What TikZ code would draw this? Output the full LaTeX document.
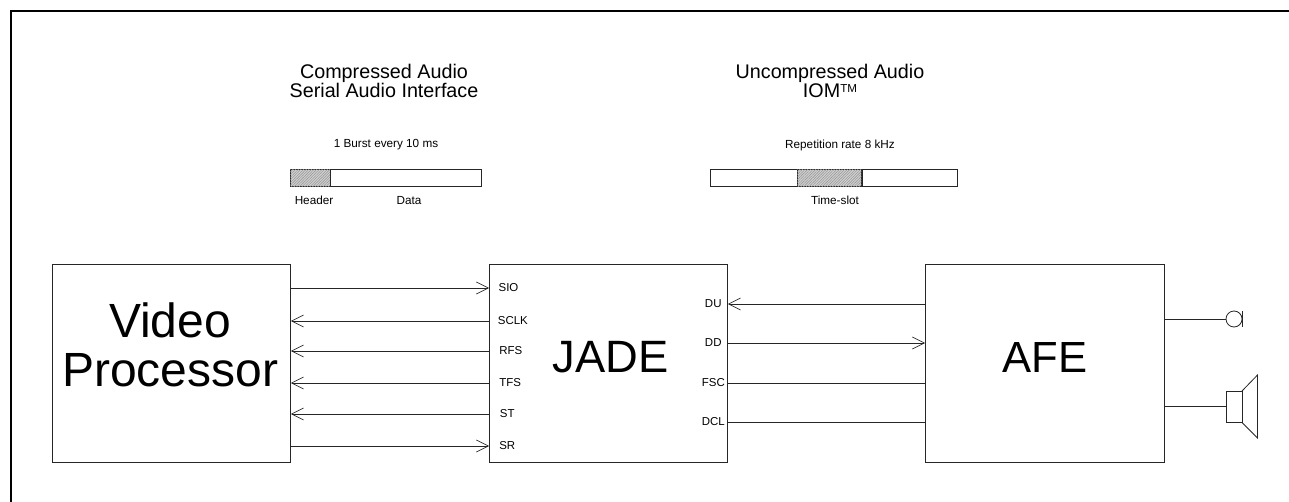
\documentclass[tikz,border=0pt]{standalone}
\usepackage{fontspec}
\setmainfont{Liberation Sans}
\usetikzlibrary{patterns.meta,arrows.meta}
\tikzset{
  block/.style={draw=black!85,line width=0.6pt,fill=white,inner sep=0pt,anchor=north west},
  cell/.style={draw=black!85,line width=0.6pt,inner sep=0pt,anchor=north west,fill=white,minimum height=12.75pt},
  hatched/.style={cell,fill=black!18,postaction={pattern={Lines[angle=45,distance=1.4pt,line width=0.45pt]},pattern color=black!40}},
  wire/.style={draw=black!85,line width=0.6pt},
  sig/.style={wire,-{Straight Barb[length=9pt,width=9pt,line width=0.5pt]}},
  pin/.style={font=\fontsize{8.6pt}{10pt}\selectfont,inner sep=0pt},
  small/.style={font=\fontsize{8.8pt}{10pt}\selectfont,inner sep=0pt},
  head/.style={font=\fontsize{14.8pt}{14.6pt}\selectfont,align=center,inner sep=0pt},
  big/.style={font=\fontsize{36pt}{36.8pt}\selectfont,align=center,inner sep=0pt},
  bigger/.style={font=\fontsize{34pt}{36pt}\selectfont,inner sep=0pt},
}
\begin{document}
\begin{tikzpicture}[x=0.75pt,y=-0.75pt]
\useasboundingbox (0,0) rectangle (1289,502);
\draw[line width=1.5pt,line cap=rect] (11,502) |- (1289,11);
% headings
\node[head] (h1) at (384,81) {Compressed Audio\\Serial Audio Interface};
\node[head] (h2) at (830,81) {Uncompressed Audio\\IOM\raisebox{4.2pt}{\fontsize{8.7pt}{9pt}\selectfont TM}};
\node[small] (t1) at (386,145) {1 Burst every 10 ms};
\node[small] (t2) at (840,145) {Repetition rate 8 kHz};
% bars
\node[hatched,minimum width=30pt] (b1) at (290,169) {};
\node[cell,minimum width=113.25pt] (b2) at (330,169) {};
\node[cell,minimum width=65.25pt] (b3) at (710,169) {};
\node[hatched,minimum width=48pt] (b4) at (797,169) {};
\node[cell,minimum width=71.25pt] (b5) at (862,169) {};
\node[small] (l1) at (314,200.5) {Header};
\node[small] (l2) at (409,200.5) {Data};
\node[small] (l3) at (835,200.5) {Time-slot};
% blocks
\node[block,minimum width=178.5pt,minimum height=148.5pt] (vp) at (52,264) {};
\node[big] (vpt) at ([xshift=-1pt,yshift=14pt]vp.center) {Video\\Processor};
\node[block,minimum width=178.5pt,minimum height=148.5pt] (jade) at (489,264) {};
\node[bigger] (jt) at ([xshift=1.9pt,yshift=4.5pt]jade.center) {JADE};
\node[block,minimum width=179.25pt,minimum height=148.5pt] (afe) at (925,264) {};
\node[bigger,font=\fontsize{32.7pt}{36pt}\selectfont] (at) at ([yshift=4.5pt]afe.center) {AFE};
% left connectors
\foreach \n/\y/\t/\s in {a/288/SIO/7pt,b/321/SCLK/6.5pt,c/351/RFS/7.5pt,d/383/TFS/7.5pt,e/414/ST/8pt,f/446/SR/7.5pt}{
  \coordinate (vp\n) at (vp.east |- 0,\y);
  \coordinate (ja\n) at (jade.west |- 0,\y);
  \node[pin,anchor=west] (lab\n) at ([xshift=\s]ja\n) {\t};
}
\draw[sig] (vpa) -- (jaa);
\draw[sig] (jab) -- (vpb);
\draw[sig] (jac) -- (vpc);
\draw[sig] (jad) -- (vpd);
\draw[sig] (jae) -- (vpe);
\draw[sig] (vpf) -- (jaf);
% right connectors
\foreach \n/\y/\t/\s in {g/304/DU/4.5pt,h/343/DD/4.5pt,i/383/FSC/2pt,j/422/DCL/2pt}{
  \coordinate (jr\n) at (jade.east |- 0,\y);
  \coordinate (af\n) at (afe.west |- 0,\y);
  \node[pin,anchor=east] (lab\n) at ([xshift=-\s]jr\n) {\t};
}
\draw[sig] (afg) -- (jrg);
\draw[sig] (jrh) -- (afh);
\draw[wire] (jri) -- (afi);
\draw[wire] (jrj) -- (afj);
% microphone
\coordinate (mic) at (1226,319);
\coordinate (spk) at (1226,406);
\draw[wire] (afe.east |- mic) -- (mic);
\draw[wire] (1226,319) arc[start angle=180,end angle=-180,radius=6pt];
\draw[wire] (1242,311.5) -- (1242,327);
% speaker
\draw[wire] (afe.east |- spk) -- (spk);
\draw[wire] (1226,391) rectangle (1242,422.5);
\draw[wire] (1242,391) -- (1257.5,375) -- (1257.5,438) -- (1242,422.5);
\end{tikzpicture}
\end{document}
